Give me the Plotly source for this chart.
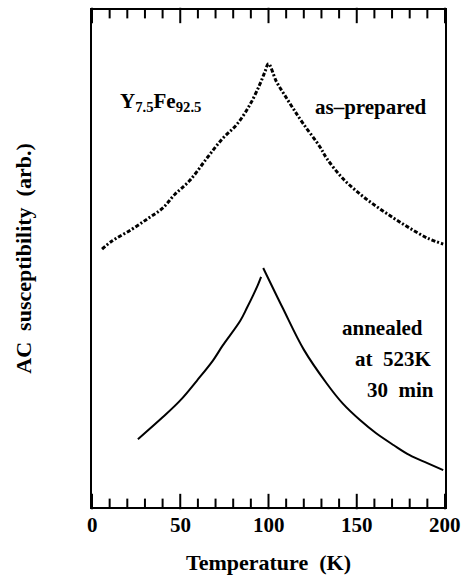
import plotly.graph_objects as go

# As-prepared sample (scattered dots in the reference)
t_prep = [5.7, 11.3, 22.7, 32, 40, 47, 55.5, 65, 74, 82, 89.5, 95, 98, 100,
          104.5, 109, 114, 120, 129, 133, 142, 152, 161, 171, 180, 190, 199]
chi_prep = [259, 267, 279, 290, 300, 314, 328, 350, 370, 384, 404, 424, 437, 445,
            427, 414, 400, 384, 362, 350, 330, 314, 302, 290, 280, 270, 264]

# Annealed sample (smooth line), left and right branches of the cusp
t_ann_l = [26, 40, 50, 59.5, 68.5, 74, 84, 87.8, 91.4, 94, 95.8]
chi_ann_l = [68, 90, 107, 127, 147, 162, 187, 200, 213, 223, 231]
t_ann_r = [97, 108, 120, 133, 142, 152, 161, 171, 180, 190, 199]
chi_ann_r = [240, 200, 158, 124, 104, 87, 74, 62, 52, 44, 37]

x_major = [0, 50, 100, 150, 200]
x_minor = [10, 20, 30, 40, 60, 70, 80, 90, 110, 120, 130, 140, 160, 170, 180, 190]

FONT = "Liberation Serif"
Y_MAX = 499  # y range of the (arbitrary-unit) axis
PLOT_H = 575 - 8 - 68

fig = go.Figure()
fig.add_trace(go.Scatter(x=t_prep, y=chi_prep, mode="lines", line_shape="spline",
                         line=dict(color="black", width=3, dash="4px,2px,2px,2px"),
                         showlegend=False))
fig.add_trace(go.Scatter(x=t_ann_l, y=chi_ann_l, mode="lines", line_shape="spline",
                         line=dict(color="black", width=2), showlegend=False))
fig.add_trace(go.Scatter(x=t_ann_r, y=chi_ann_r, mode="lines", line_shape="spline",
                         line=dict(color="black", width=2), showlegend=False))

# inward ticks on bottom and top axes, drawn as vertical-line markers
for vals, ln in ((x_major, 11), (x_minor, 7)):
    half = ln / 2 * Y_MAX / PLOT_H
    xs = list(vals) + list(vals)
    ys = [half] * len(vals) + [Y_MAX - half] * len(vals)
    fig.add_trace(go.Scatter(x=xs, y=ys, mode="markers", cliponaxis=False, hoverinfo="skip",
                             marker=dict(symbol="line-ns", size=ln, color="black",
                                         line=dict(color="black", width=2)),
                             showlegend=False))

# tick labels
for v in x_major:
    fig.add_annotation(xref="x", yref="paper", x=v, y=-18 / PLOT_H, showarrow=False,
                       text=f"<b>{v}</b>", font=dict(family=FONT, size=21, color="black"),
                       xanchor="center", yanchor="middle")

tf = dict(family=FONT, size=21, color="black")
ann = [
    dict(x=39, y=407, text="<b>Y<sub>7.5</sub>Fe<sub>92.5</sub></b>", xanchor="center", yanchor="middle"),
    dict(x=158, y=402, text="<b>as–prepared</b>", xanchor="center", yanchor="middle"),
    dict(x=188.7, y=180, text="<b>annealed</b>", xanchor="right", yanchor="middle"),
    dict(x=193.2, y=149, text="<b>at  523K</b>", xanchor="right", yanchor="middle"),
    dict(x=195, y=117, text="<b>30  min</b>", xanchor="right", yanchor="middle"),
]
for a in ann:
    fig.add_annotation(xref="x", yref="y", showarrow=False, font=tf, **a)

fig.add_annotation(xref="paper", yref="paper", x=0.5, y=-56 / PLOT_H, showarrow=False,
                   text="<b>Temperature  (K)</b>", font=dict(family=FONT, size=22, color="black"),
                   xanchor="center", yanchor="middle")
fig.add_annotation(xref="paper", yref="paper", x=-0.195, y=0.5, showarrow=False, textangle=-90,
                   text="<b>AC  susceptibility  (arb.)</b>", font=dict(family=FONT, size=22, color="black"),
                   xanchor="center", yanchor="middle")

fig.update_layout(
    width=462, height=575, margin=dict(l=92, r=17, t=8, b=68),
    plot_bgcolor="white", paper_bgcolor="white",
    xaxis=dict(range=[0, 200], showticklabels=False, ticks="",
               showline=True, linecolor="black", linewidth=2, mirror=True,
               showgrid=False, zeroline=False),
    yaxis=dict(range=[0, Y_MAX], showticklabels=False, ticks="",
               showline=True, linecolor="black", linewidth=2, mirror=True,
               showgrid=False, zeroline=False),
)

fig.write_html("out.html")
